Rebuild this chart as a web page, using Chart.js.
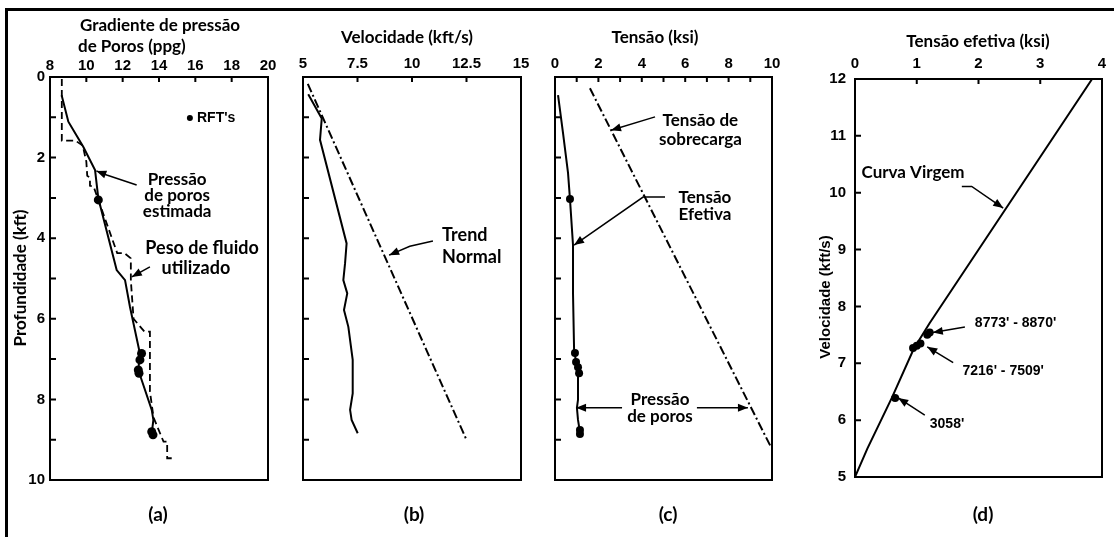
<!DOCTYPE html>
<html lang="pt">
<head>
<meta charset="utf-8">
<script src="https://cdn.jsdelivr.net/npm/chart.js@4.4.1/dist/chart.umd.min.js"></script>
<style>
  html, body { margin: 0; padding: 0; background: #fff; width: 1114px; height: 537px; overflow: hidden; }
  .moldura { position: absolute; left: 5px; top: 8px; width: 1130px; height: 560px;
             border-left: 3px solid #000; border-top: 3px solid #000; }
  canvas { position: absolute; top: 0; }
</style>
</head>
<body>
<div class="moldura"></div>
<canvas id="painelA" width="285" height="537" style="left:0px"></canvas>
<canvas id="painelB" width="255" height="537" style="left:285px"></canvas>
<canvas id="painelC" width="250" height="537" style="left:540px"></canvas>
<canvas id="painelD" width="324" height="537" style="left:790px"></canvas>
<script>
// (a) gradiente de pressão de poros x profundidade
const gradEstimado = [8.64, 9.01, 9.83, 10.48, 10.66, 11.67, 12.13, 12.4, 12.95, 12.86, 13.6, 13.69, 13.6];
const profEstimado = [0.45, 1.11, 1.73, 2.31, 3.01, 4.79, 5.04, 5.7, 6.86, 7.27, 8.26, 8.51, 8.84];
const pesoFluido = [8.65, 8.65, 9.4, 9.8, 10.0, 10.05, 10.2, 10.2, 10.4, 10.7, 11.7, 12.1, 12.45, 12.45, 12.6, 13.2, 13.5, 13.5, 13.7, 14.25, 14.45, 14.45, 14.7];
const profFluido = [0.05, 1.58, 1.58, 1.7, 2.1, 2.45, 2.5, 2.7, 2.72, 3.1, 4.37, 4.37, 4.5, 5.05, 6.0, 6.32, 6.32, 7.8, 8.45, 9.05, 9.05, 9.46, 9.46];
const gradRFT = [10.66, 13.04, 12.95, 12.86, 12.9, 13.6, 13.67];
const profRFT = [3.05, 6.86, 7.02, 7.27, 7.35, 8.8, 8.88];

// (b) velocidade
const velMedida = [5.24, 5.86, 5.78, 7.0, 6.93, 6.85, 7.03, 6.88, 7.08, 7.28, 7.28, 7.16, 7.23, 7.51];
const profVel = [0.43, 1.03, 1.56, 4.13, 4.62, 5.04, 5.37, 5.78, 6.2, 7.02, 7.85, 8.26, 8.51, 8.84];
const velTrend = [5.22, 12.48];
const profTrend = [0.17, 8.98];

// (c) tensões
const tensaoEfetiva = [0.14, 0.37, 0.6, 0.69, 0.83, 0.83, 0.88, 1.06, 1.06, 1.01, 1.06, 1.15];
const profEfetiva = [0.45, 1.39, 2.38, 3.03, 4.17, 5.37, 6.78, 7.35, 8.01, 8.21, 8.51, 8.81];
const tensaoSobrecarga = [1.61, 9.94];
const profSobrecarga = [0.28, 9.17];
const tensaoRFT = [0.69, 0.92, 0.97, 1.06, 1.11, 1.15, 1.15];
const profTensaoRFT = [3.03, 6.85, 7.07, 7.2, 7.35, 8.76, 8.86];

// (d) velocidade x tensão efetiva
const efetivaVirgem = [0, 0.2, 0.6, 0.95, 1.21, 3.84];
const velVirgem = [5, 5.5, 6.4, 7.25, 7.71, 12];
const efetivaRFT = [0.65, 0.94, 1.0, 1.06, 1.17, 1.21];
const velRFT = [6.39, 7.27, 7.31, 7.35, 7.5, 7.54];

// marcas e rótulos dos eixos
const marcasGrad = [8, 10, 12, 14, 16, 18, 20];
const marcasVel = [5, 7.5, 10, 12.5, 15];
const marcasTensao = [0, 1, 2, 3, 4, 5, 6, 7, 8, 9, 10];
const rotulosTensao = [0, 2, 4, 6, 8, 10];
const marcasProf = [0, 1, 2, 3, 4, 5, 6, 7, 8, 9, 10];
const rotulosProf = [0, 2, 4, 6, 8, 10];
const marcasEfetiva = [0, 1, 2, 3, 4];
const marcasVelD = [5, 6, 7, 8, 9, 10, 11, 12];

const TITULO = 'bold 17px Lato';
const LEGENDA = 'bold 19px Lato';
const NOTA = 'bold 17px Lato';
const NOTA_A = 'bold 18px Lato';
const NUM = 'bold 14px "Liberation Sans"';
const TICK = { family: 'Liberation Sans', size: 15, weight: 'bold' };

const pontos = (xs, ys) => xs.map((x, i) => ({ x, y: ys[i] }));

function ponta(ctx, de, ate) {
  const ang = Math.atan2(ate[1] - de[1], ate[0] - de[0]);
  const c = 10, l = 4;
  ctx.beginPath();
  ctx.moveTo(ate[0], ate[1]);
  ctx.lineTo(ate[0] - c * Math.cos(ang) + l * Math.sin(ang), ate[1] - c * Math.sin(ang) - l * Math.cos(ang));
  ctx.lineTo(ate[0] - c * Math.cos(ang) - l * Math.sin(ang), ate[1] - c * Math.sin(ang) + l * Math.cos(ang));
  ctx.closePath();
  ctx.fill();
}

// moldura, marcas internas, setas e textos de cada painel
const desenho = {
  id: 'desenho',
  afterDraw(chart, args, o) {
    const ctx = chart.ctx, a = chart.chartArea;
    const sx = chart.scales.x, sy = chart.scales.y;
    const px = v => sx.getPixelForValue(v), py = v => sy.getPixelForValue(v);
    ctx.save();
    ctx.strokeStyle = '#000';
    ctx.fillStyle = '#000';
    ctx.lineWidth = 2;
    ctx.strokeRect(a.left, a.top, a.right - a.left, a.bottom - a.top);
    ctx.beginPath();
    sx.ticks.forEach(t => {
      if (t.value <= sx.min || t.value >= sx.max) return;
      ctx.moveTo(px(t.value), a.top);
      ctx.lineTo(px(t.value), a.top + 5);
    });
    sy.ticks.forEach(t => {
      if (t.value <= sy.min || t.value >= sy.max) return;
      ctx.moveTo(a.left, py(t.value));
      ctx.lineTo(a.left + 6, py(t.value));
    });
    ctx.stroke();

    ctx.lineWidth = 1.5;
    (o.setas || []).forEach(s => {
      const p = s.map(([x, y]) => [px(x), py(y)]);
      ctx.beginPath();
      ctx.moveTo(p[0][0], p[0][1]);
      p.slice(1).forEach(q => ctx.lineTo(q[0], q[1]));
      ctx.stroke();
      ponta(ctx, p[p.length - 2], p[p.length - 1]);
    });

    (o.marcadores || []).forEach(m => {
      ctx.beginPath();
      ctx.arc(px(m.x), py(m.y), m.r, 0, Math.PI * 2);
      ctx.fill();
    });

    (o.textos || []).forEach(t => {
      ctx.save();
      ctx.font = t.fonte || NOTA;
      ctx.textAlign = t.alinha || 'center';
      ctx.textBaseline = 'middle';
      const x = t.tela ? t.x : px(t.x);
      const y = t.tela ? t.y : py(t.y);
      ctx.translate(x, y);
      if (t.rot) ctx.rotate(t.rot);
      t.linhas.forEach((l, i) => ctx.fillText(l, 0, i * (t.passo || 0)));
      ctx.restore();
    });
    ctx.restore();
  }
};

function painel(id, c) {
  return new Chart(document.getElementById(id), {
    type: 'scatter',
    data: { datasets: c.series },
    options: {
      responsive: false,
      animation: false,
      events: [],
      layout: { padding: c.padding },
      plugins: { legend: { display: false }, tooltip: { enabled: false }, desenho: c.desenho },
      scales: {
        x: {
          type: 'linear', position: 'top', min: c.x.marcas[0], max: c.x.marcas[c.x.marcas.length - 1],
          afterBuildTicks: s => { s.ticks = c.x.marcas.map(v => ({ value: v })); },
          afterFit: s => { s.height = c.x.altura; },
          grid: { display: false, drawTicks: false },
          border: { display: false },
          ticks: {
            autoSkip: false, maxRotation: 0, color: '#000', font: TICK, padding: c.x.folga,
            callback: v => (c.x.rotulos || c.x.marcas).includes(v) ? String(v) : ''
          }
        },
        y: {
          type: 'linear', position: 'left', reverse: c.y.inverte,
          min: c.y.marcas[0], max: c.y.marcas[c.y.marcas.length - 1],
          afterBuildTicks: s => { s.ticks = c.y.marcas.map(v => ({ value: v })); },
          afterFit: s => { s.width = c.y.largura; },
          grid: { display: false, drawTicks: false },
          border: { display: false },
          ticks: {
            display: c.y.mostra, autoSkip: false, color: '#000', font: TICK, padding: c.y.folga,
            callback: v => (c.y.rotulos || c.y.marcas).includes(v) ? String(v) : ''
          }
        }
      }
    },
    plugins: [desenho]
  });
}

const linha = (dados, extra) => Object.assign({
  data: dados, showLine: true, pointRadius: 0, borderColor: '#000', borderWidth: 2, tension: 0
}, extra);
const bolas = (dados, r) => ({
  data: dados, showLine: false, pointRadius: r, pointBackgroundColor: '#000', pointBorderWidth: 0
});
const TRACO_PONTO = [9, 3, 2, 3];

painel('painelA', {
  padding: { left: 0, right: 17, top: 0, bottom: 57 },
  x: { marcas: marcasGrad, altura: 77, folga: 2 },
  y: { marcas: marcasProf, rotulos: rotulosProf, inverte: true, largura: 50, folga: 5, mostra: true },
  series: [
    bolas(pontos(gradRFT, profRFT), 4.5),
    linha(pontos(gradEstimado, profEstimado)),
    linha(pontos(pesoFluido, profFluido), { borderDash: [7, 4], borderWidth: 1.8 })
  ],
  desenho: {
    setas: [
      [[12.77, 2.68], [11.12, 2.43], [10.55, 2.33]],
      [[13.5, 4.71], [12.5, 4.96]]
    ],
    marcadores: [{ x: 15.7, y: 1.02, r: 3 }],
    textos: [
      { tela: true, x: 80, y: 26, alinha: 'left', fonte: TITULO, linhas: ['Gradiente de pressão'] },
      { tela: true, x: 78, y: 47, alinha: 'left', fonte: TITULO, linhas: ['de Poros (ppg)'] },
      { tela: true, x: 21, y: 278, rot: -Math.PI / 2, fonte: TITULO, linhas: ['Profundidade (kft)'] },
      { tela: true, x: 158, y: 515, fonte: LEGENDA, linhas: ['(a)'] },
      { x: 15.0, y: 2.55, passo: 16, fonte: NOTA, linhas: ['Pressão', 'de poros', 'estimada'] },
      { x: 16.37, y: 4.24, fonte: NOTA_A, linhas: ['Peso de fluido'] },
      { x: 16.03, y: 4.74, fonte: NOTA_A, linhas: ['utilizado'] },
      { x: 16.09, y: 1.02, alinha: 'left', fonte: NUM, linhas: ["RFT's"] }
    ]
  }
});

painel('painelB', {
  padding: { left: 0, right: 19, top: 0, bottom: 57 },
  x: { marcas: marcasVel, altura: 77, folga: 4 },
  y: { marcas: marcasProf, inverte: true, largura: 18, folga: 0, mostra: false },
  series: [
    linha(pontos(velMedida, profVel)),
    linha(pontos(velTrend, profTrend), { borderDash: TRACO_PONTO })
  ],
  desenho: {
    setas: [[[10.96, 4.07], [9.9, 4.2], [8.95, 4.42]]],
    textos: [
      { tela: true, x: 122, y: 38, fonte: TITULO, linhas: ['Velocidade (kft/s)'] },
      { tela: true, x: 129, y: 515, fonte: LEGENDA, linhas: ['(b)'] },
      { x: 11.38, y: 3.92, passo: 22, alinha: 'left', fonte: NOTA_A, linhas: ['Trend', 'Normal'] }
    ]
  }
});

painel('painelC', {
  padding: { left: 0, right: 18, top: 0, bottom: 57 },
  x: { marcas: marcasTensao, rotulos: rotulosTensao, altura: 77, folga: 4 },
  y: { marcas: marcasProf, inverte: true, largura: 15, folga: 0, mostra: false },
  series: [
    bolas(pontos(tensaoRFT, profTensaoRFT), 4),
    linha(pontos(tensaoEfetiva, profEfetiva)),
    linha(pontos(tensaoSobrecarga, profSobrecarga), { borderDash: TRACO_PONTO })
  ],
  desenho: {
    setas: [
      [[4.61, 0.99], [2.58, 1.32]],
      [[5.07, 2.98], [4.06, 2.98], [0.88, 4.17]],
      [[3.09, 8.21], [0.97, 8.21]],
      [[6.54, 8.21], [8.89, 8.21]]
    ],
    textos: [
      { tela: true, x: 115, y: 38, fonte: TITULO, linhas: ['Tensão (ksi)'] },
      { tela: true, x: 128, y: 515, fonte: LEGENDA, linhas: ['(c)'] },
      { x: 6.7, y: 1.07, passo: 19, linhas: ['Tensão de', 'sobrecarga'] },
      { x: 6.91, y: 2.98, passo: 17, linhas: ['Tensão', 'Efetiva'] },
      { x: 4.84, y: 8.01, passo: 17, linhas: ['Pressão', 'de poros'] }
    ]
  }
});

painel('painelD', {
  padding: { left: 0, right: 12, top: 0, bottom: 60 },
  x: { marcas: marcasEfetiva, altura: 79, folga: 6 },
  y: { marcas: marcasVelD, inverte: false, largura: 65, folga: 9, mostra: true },
  series: [
    bolas(pontos(efetivaRFT, velRFT), 4),
    linha(pontos(efetivaVirgem, velVirgem))
  ],
  desenho: {
    setas: [
      [[1.73, 10.11], [1.89, 10.11], [2.40, 9.73]],
      [[1.78, 7.64], [1.26, 7.54]],
      [[1.59, 7.01], [1.17, 7.29]],
      [[1.13, 6.09], [0.70, 6.39]]
    ],
    textos: [
      { tela: true, x: 188, y: 42, fonte: TITULO, linhas: ['Tensão efetiva (ksi)'] },
      { tela: true, x: 36, y: 297, rot: -Math.PI / 2, fonte: 'bold 15px "Liberation Sans"', linhas: ['Velocidade (kft/s)'] },
      { tela: true, x: 193, y: 515, fonte: LEGENDA, linhas: ['(d)'] },
      { x: 0.94, y: 10.35, linhas: ['Curva Virgem'] },
      { x: 2.6, y: 7.71, fonte: NUM, linhas: ["8773' - 8870'"] },
      { x: 2.4, y: 6.87, fonte: NUM, linhas: ["7216' - 7509'"] },
      { x: 1.49, y: 5.93, fonte: NUM, linhas: ["3058'"] }
    ]
  }
});
</script>
</body>
</html>
